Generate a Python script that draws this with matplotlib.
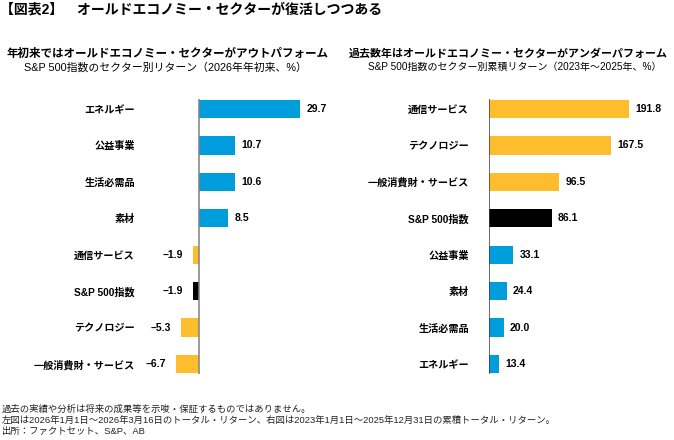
import numpy as np
import matplotlib
matplotlib.use("Agg")
import matplotlib.pyplot as plt

plt.rcParams['font.family'] = ['Liberation Sans', 'Noto Sans CJK JP', 'DejaVu Sans']

BLUE = "#009ddc"
YELLOW = "#fdbd2c"
BLACK = "#000000"

# left panel: YTD 2026
left_labels = ["エネルギー", "公益事業", "生活必需品", "素材", "通信サービス",
               "S&P 500指数", "テクノロジー", "一般消費財・サービス"]
left_values = [29.7, 10.7, 10.6, 8.5, -1.9, -1.9, -5.3, -6.7]
left_colors = [BLUE, BLUE, BLUE, BLUE, YELLOW, BLACK, YELLOW, YELLOW]

# right panel: cumulative 2023-2025
right_labels = ["通信サービス", "テクノロジー", "一般消費財・サービス", "S&P 500指数",
                "公益事業", "素材", "生活必需品", "エネルギー"]
right_values = [191.8, 167.5, 96.5, 86.1, 33.1, 24.4, 20.0, 13.4]
right_colors = [YELLOW, YELLOW, YELLOW, BLACK, BLUE, BLUE, BLUE, BLUE]

W, H = 674, 440
fig = plt.figure(figsize=(W / 100, H / 100), dpi=100)


def px_axes(x0, x1, y0, y1):
    return fig.add_axes([x0 / W, 1 - y1 / H, (x1 - x0) / W, (y1 - y0) / H])


def fmt(v):
    s = "{:.1f}".format(abs(v))
    return ("–" + s) if v < 0 else s


def draw_panel(ax, labels, values, colors, xlim, pad, zero_color):
    n = len(values)
    y = np.arange(n)
    ax.barh(y, values, height=0.5, color=colors)
    ax.set_xlim(*xlim)
    ax.set_ylim(n - 0.5, -0.5)
    ax.vlines(0, -0.27, n - 1 + 0.27, color=zero_color, lw=1.1)
    ax.set_yticks(y)
    ax.set_yticklabels(labels, fontsize=7.3, fontweight="bold")
    ax.tick_params(axis="y", length=0, pad=pad)
    ax.set_xticks([])
    for s in ax.spines.values():
        s.set_visible(False)
    for yi, v in zip(y, values):
        if v >= 0:
            ax.annotate(fmt(v), (v, yi), xytext=(4.5, 0), textcoords="offset points",
                        ha="left", va="center", fontsize=7.5, fontweight="bold")
        else:
            ax.annotate(fmt(v), (v, yi), xytext=(-7, 0), textcoords="offset points",
                        ha="right", va="center", fontsize=7.5, fontweight="bold")


ax1 = px_axes(140, 330, 90.8, 382.2)
draw_panel(ax1, left_labels, left_values, left_colors, (-17.35, 38.53), 3.6, "#808080")

ax2 = px_axes(489, 670, 90.8, 382.2)
draw_panel(ax2, right_labels, right_values, right_colors, (0, 248), 14.4, "#404040")

# titles
fig.text(0 / W, 1 - 10 / H, "【図表2】　オールドエコノミー・セクターが復活しつつある",
         fontsize=10, fontweight="bold", va="center", ha="left")
fig.text(168 / W, 1 - 54 / H, "年初来ではオールドエコノミー・セクターがアウトパフォーム",
         fontsize=8.3, fontweight="bold", va="center", ha="center")
fig.text(165 / W, 1 - 67 / H, "S&P 500指数のセクター別リターン（2026年年初来、%）",
         fontsize=7.8, va="center", ha="center")
fig.text(508 / W, 1 - 54 / H, "過去数年はオールドエコノミー・セクターがアンダーパフォーム",
         fontsize=7.9, fontweight="bold", va="center", ha="center")
fig.text(515 / W, 1 - 67 / H, "S&P 500指数のセクター別累積リターン（2023年～2025年、%）",
         fontsize=7.2, va="center", ha="center")

# footnotes
notes = [
    "過去の実績や分析は将来の成果等を示唆・保証するものではありません。",
    "左図は2026年1月1日～2026年3月16日のトータル・リターン、右図は2023年1月1日～2025年12月31日の累積トータル・リターン。",
    "出所：ファクトセット、S&P、AB",
]
for i, t in enumerate(notes):
    fig.text(2 / W, 1 - (409 + 11 * i) / H, t, fontsize=6.75, va="center", ha="left",
             color="#222222")

fig.savefig("out.png", dpi=100)
